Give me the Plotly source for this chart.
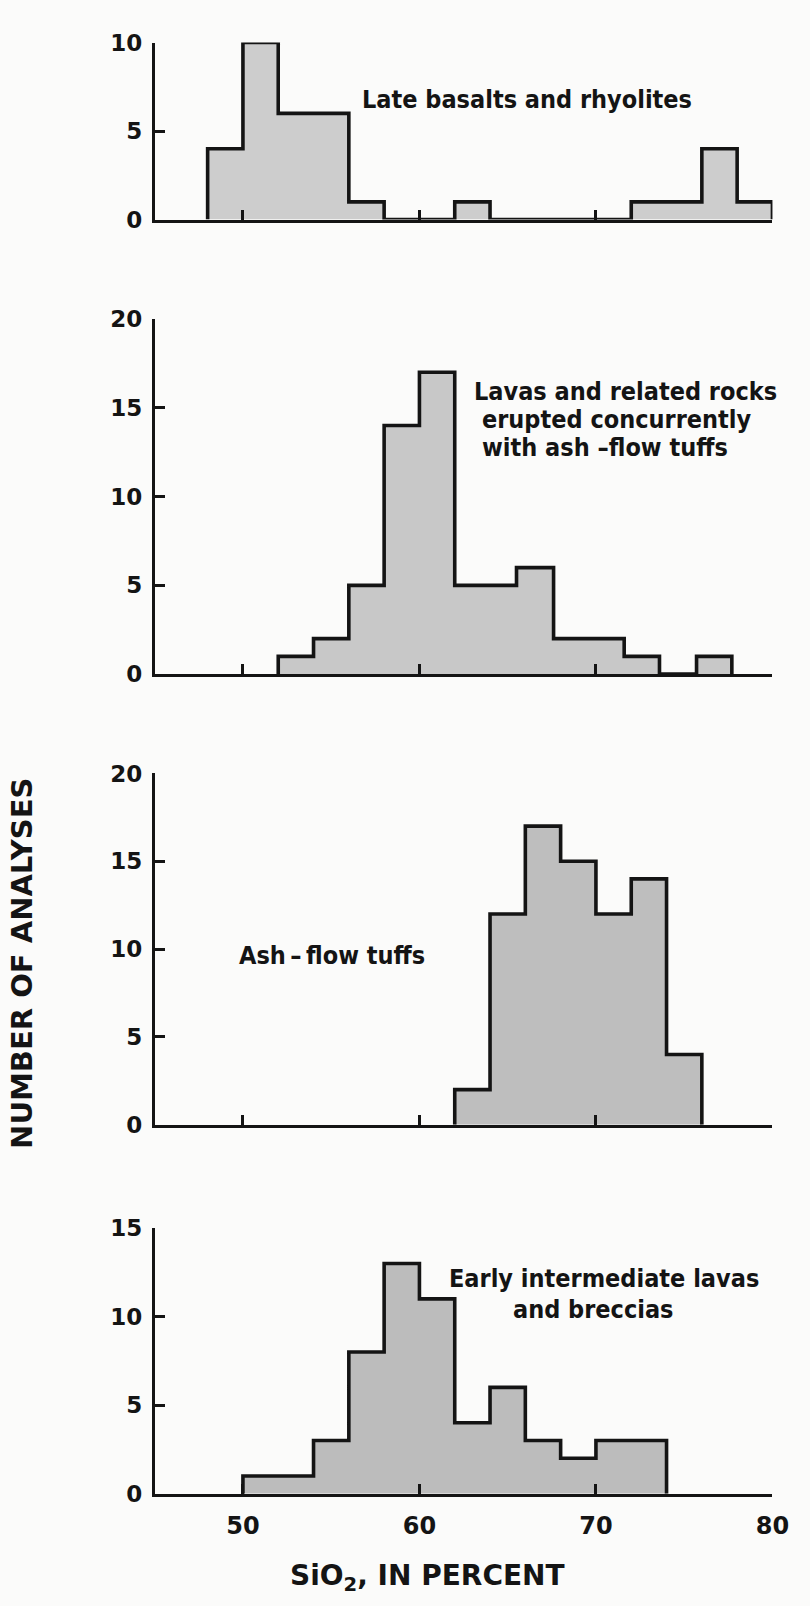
import plotly.graph_objects as go

# ---------------- data ----------------
# Bin edges (SiO2 %) and number of analyses per bin, one pair per panel
late_edges = [48, 50, 52, 54, 56, 58, 60, 62, 64, 66, 68, 70, 72, 74, 76, 78, 80]
late_counts = [4, 10, 6, 6, 1, 0, 0, 1, 0, 0, 0, 0, 1, 1, 4, 1]

conc_edges = [52, 54, 56, 58, 60, 62, 65.5, 67.6, 71.6, 73.6, 75.7, 77.7]
conc_counts = [1, 2, 5, 14, 17, 5, 6, 2, 1, 0, 1]

tuff_edges = [62, 64, 66, 68, 70, 72, 74, 76]
tuff_counts = [2, 12, 17, 15, 12, 14, 4]

early_edges = [50, 54, 56, 58, 60, 62, 64, 66, 68, 70, 74]
early_counts = [1, 3, 8, 13, 11, 4, 6, 3, 2, 3]

x_ticks = [50, 60, 70, 80]
panel_ymax = [10, 20, 20, 15]
panel_labels = [
    ["Late basalts and rhyolites"],
    ["Lavas and related rocks", "erupted concurrently", "with ash \u2013flow tuffs"],
    ["Ash\u2009\u2013\u2009flow tuffs"],
    ["Early intermediate lavas", "and breccias"],
]
x_title = "SiO<sub>2</sub>, IN PERCENT"
y_title = "NUMBER OF ANALYSES"

# ---------------- layout geometry ----------------
W, H = 810, 1606
X_LEFT, X_RIGHT = 158, 789          # pixel span of x = 45..80
panels_px = [(30, 210), (311, 672), (773, 1130), (1235, 1505)]  # (top, bottom) in px
fills = ["#cdcdcd", "#c8c8c8", "#bebebe", "#bcbcbc"]
INK = "#141414"

series = [(late_edges, late_counts), (conc_edges, conc_counts),
          (tuff_edges, tuff_counts), (early_edges, early_counts)]


def step_outline(edges, counts):
    xs, ys = [edges[0]], [0]
    for i, c in enumerate(counts):
        xs += [edges[i], edges[i + 1]]
        ys += [c, c]
    xs.append(edges[-1])
    ys.append(0)
    return xs, ys


fig = go.Figure()
tick_font = dict(family="DejaVu Sans", size=23, color=INK, weight="bold")
ann_font = dict(family="DejaVu Sans Condensed, sans-serif",
                size=25, color=INK, weight="bold")

for k, ((edges, counts), (top, bot)) in enumerate(zip(series, panels_px)):
    n = "" if k == 0 else str(k + 1)
    xs, ys = step_outline(edges, counts)
    fig.add_trace(go.Scatter(
        x=xs, y=ys, mode="lines", fill="tozeroy", fillcolor=fills[k],
        line=dict(color=INK, width=3.6), hoverinfo="skip",
        xaxis="x" + n, yaxis="y" + n, showlegend=False, cliponaxis=False))
    dom_y = [1 - bot / H, 1 - top / H]
    ymax = panel_ymax[k]
    fig.layout["xaxis" + n] = dict(
        domain=[X_LEFT / W, X_RIGHT / W], range=[45, 80], anchor="y" + n,
        showline=True, linecolor=INK, linewidth=2.8, mirror=False,
        ticks="inside", tickvals=x_ticks, ticklen=10, tickwidth=2.8,
        tickcolor=INK, showgrid=False, zeroline=False,
        showticklabels=(k == 3), tickfont=dict(tick_font, size=24),
        ticklabelstandoff=9)
    fig.layout["yaxis" + n] = dict(
        domain=dom_y, range=[0, ymax], anchor="x" + n,
        showline=True, linecolor=INK, linewidth=2.8,
        ticks="inside", tickvals=list(range(0, ymax + 1, 5)), ticklen=10,
        tickwidth=2.8, tickcolor=INK, showgrid=False, zeroline=False,
        tickfont=tick_font, ticklabelstandoff=5)

# panel labels (data coordinates of each panel)
label_pos = [
    [(56.65, 6.8, "left")],
    [(62.97, 15.9, "left"), (63.45, 14.32, "left"), (63.45, 12.75, "left")],
    [(49.66, 9.66, "left")],
    [(70.48, 12.17, "center"), (69.85, 10.39, "center")],
]
for k, (lines, poss) in enumerate(zip(panel_labels, label_pos)):
    n = "" if k == 0 else str(k + 1)
    for text, (x, y, anc) in zip(lines, poss):
        fig.add_annotation(x=x, y=y, xref="x" + n, yref="y" + n, text=text,
                           showarrow=False, xanchor=anc, yanchor="middle",
                           font=ann_font)

title_font = dict(family="DejaVu Sans", size=29, color=INK, weight="bold")
fig.add_annotation(x=23 / W, y=1 - 966 / H, xref="paper", yref="paper",
                   text=y_title, textangle=-90, showarrow=False,
                   xanchor="center", yanchor="middle", font=title_font)
fig.add_annotation(x=437 / W, y=1 - 1590 / H, xref="paper", yref="paper",
                   text=x_title, showarrow=False, xanchor="center",
                   yanchor="middle", font=dict(title_font, size=28))

fig.update_layout(width=W, height=H, margin=dict(l=0, r=0, t=0, b=0),
                  paper_bgcolor="#fbfbfa", plot_bgcolor="rgba(0,0,0,0)",
                  showlegend=False)

fig.write_html("out.html")
